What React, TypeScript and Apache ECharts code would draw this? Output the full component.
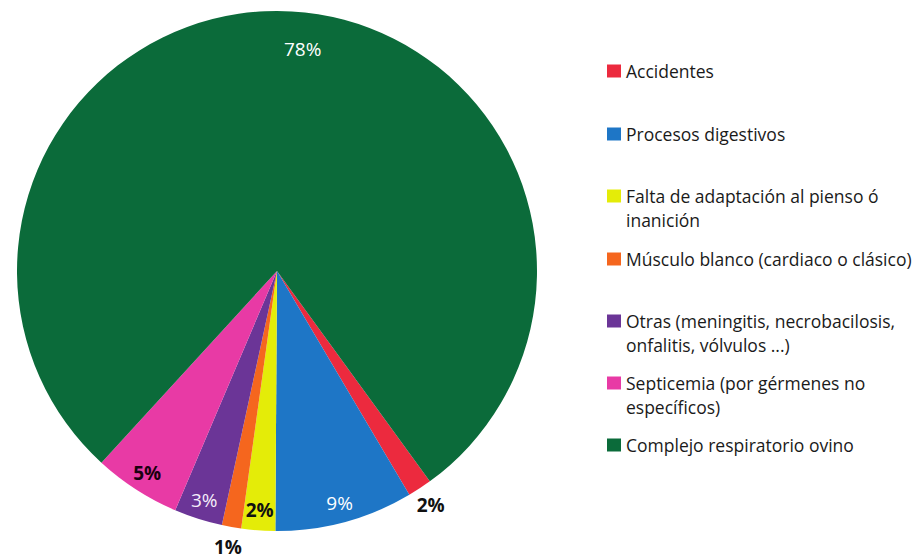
import React, { useEffect, useRef } from "react";
import * as echarts from "echarts";

const categories = [
  "Accidentes",
  "Procesos digestivos",
  "Falta de adaptación al pienso ó inanición",
  "Músculo blanco (cardiaco o clásico)",
  "Otras (meningitis, necrobacilosis, onfalitis, vólvulos ...)",
  "Septicemia (por gérmenes no específicos)",
  "Complejo respiratorio ovino",
];
const legendLabels = [
  "Accidentes",
  "Procesos digestivos",
  "Falta de adaptación al pienso ó\ninanición",
  "Músculo blanco (cardiaco o clásico)",
  "Otras (meningitis, necrobacilosis,\nonfalitis, vólvulos ...)",
  "Septicemia (por gérmenes no\nespecíficos)",
  "Complejo respiratorio ovino",
];
const values = [1.5, 8.6, 2.1, 1.2, 3.0, 5.4, 78.2];
const colors = ["#EC2A3E", "#1E76C6", "#E4EC08", "#F5661E", "#6B3597", "#E83AA5", "#0B6B3A"];
const labelColors = ["#111", "#ffffff", "#111", "#111", "#f4eefa", "#1a0010", "#ffffff"];
const labelRing = ["outer", "inner", "inner", "outer", "inner", "inner", "top"];
const legendFirstLineY = [71, 134, 196, 259, 321, 383, 445];

const FONT = "'Open Sans', Lato, sans-serif";

export default function App() {
  const ref = useRef<HTMLDivElement>(null);
  useEffect(() => {
    document.body.style.margin = "0";
    const chart = echarts.init(ref.current!, null, { renderer: "svg" });
    const cx = 277;
    const cy = 271;
    const R = 260;
    const startAngle = -54;
    const LH = 24;

    const baseData = categories.map((name, i) => ({
      name,
      value: values[i],
      itemStyle: { color: colors[i] },
    }));

    const labelSeries = (ring: string, radius: number[], shift?: { dx: number; dy: number }) => ({
      type: "pie",
      silent: true,
      center: [cx, cy],
      radius,
      startAngle,
      clockwise: true,
      avoidLabelOverlap: false,
      percentPrecision: 0,
      legendHoverLink: false,
      labelLine: { show: false },
      emphasis: { disabled: true },
      labelLayout: shift ? () => shift : undefined,
      data: categories.map((name, i) => ({
        name,
        value: values[i],
        itemStyle: { color: "rgba(0,0,0,0)" },
        label: {
          show: labelRing[i] === ring,
          position: "inside",
          formatter: "{d}%",
          color: labelColors[i],
          fontSize: 19,
          fontFamily: FONT,
          fontWeight:
            labelColors[i] === "#ffffff" || labelColors[i] === "#f4eefa" ? "normal" : "bold",
        },
      })),
    });

    const legends = categories.map((name, i) => {
      const lines = legendLabels[i].split("\n").length;
      const shown = lines > 1 ? "\n" + legendLabels[i] : legendLabels[i];
      const totalLines = shown.split("\n").length;
      const blockH = totalLines * LH;
      return {
        orient: "vertical",
        left: 607,
        top: legendFirstLineY[i] - blockH / 2,
        padding: 0,
        itemWidth: 14,
        itemHeight: 13,
        icon: "rect",
        selectedMode: false,
        data: [name],
        formatter: () => shown,
        textStyle: {
          fontSize: 17.5,
          fontFamily: FONT,
          color: "#1a1a1a",
          lineHeight: LH,
        },
      };
    });

    chart.setOption({
      animation: false,
      backgroundColor: "#ffffff",
      legend: legends,
      series: [
        {
          type: "pie",
          center: [cx, cy],
          radius: R,
          startAngle,
          clockwise: true,
          label: { show: false },
          labelLine: { show: false },
          data: baseData,
        },
        labelSeries("inner", [214, R]),
        labelSeries("top", [182, R], { dx: 13, dy: 2 }),
        labelSeries("outer", [258, 296]),
      ],
    });
    return () => chart.dispose();
  }, []);
  return <div ref={ref} style={{ width: 922, height: 559 }} />;
}
